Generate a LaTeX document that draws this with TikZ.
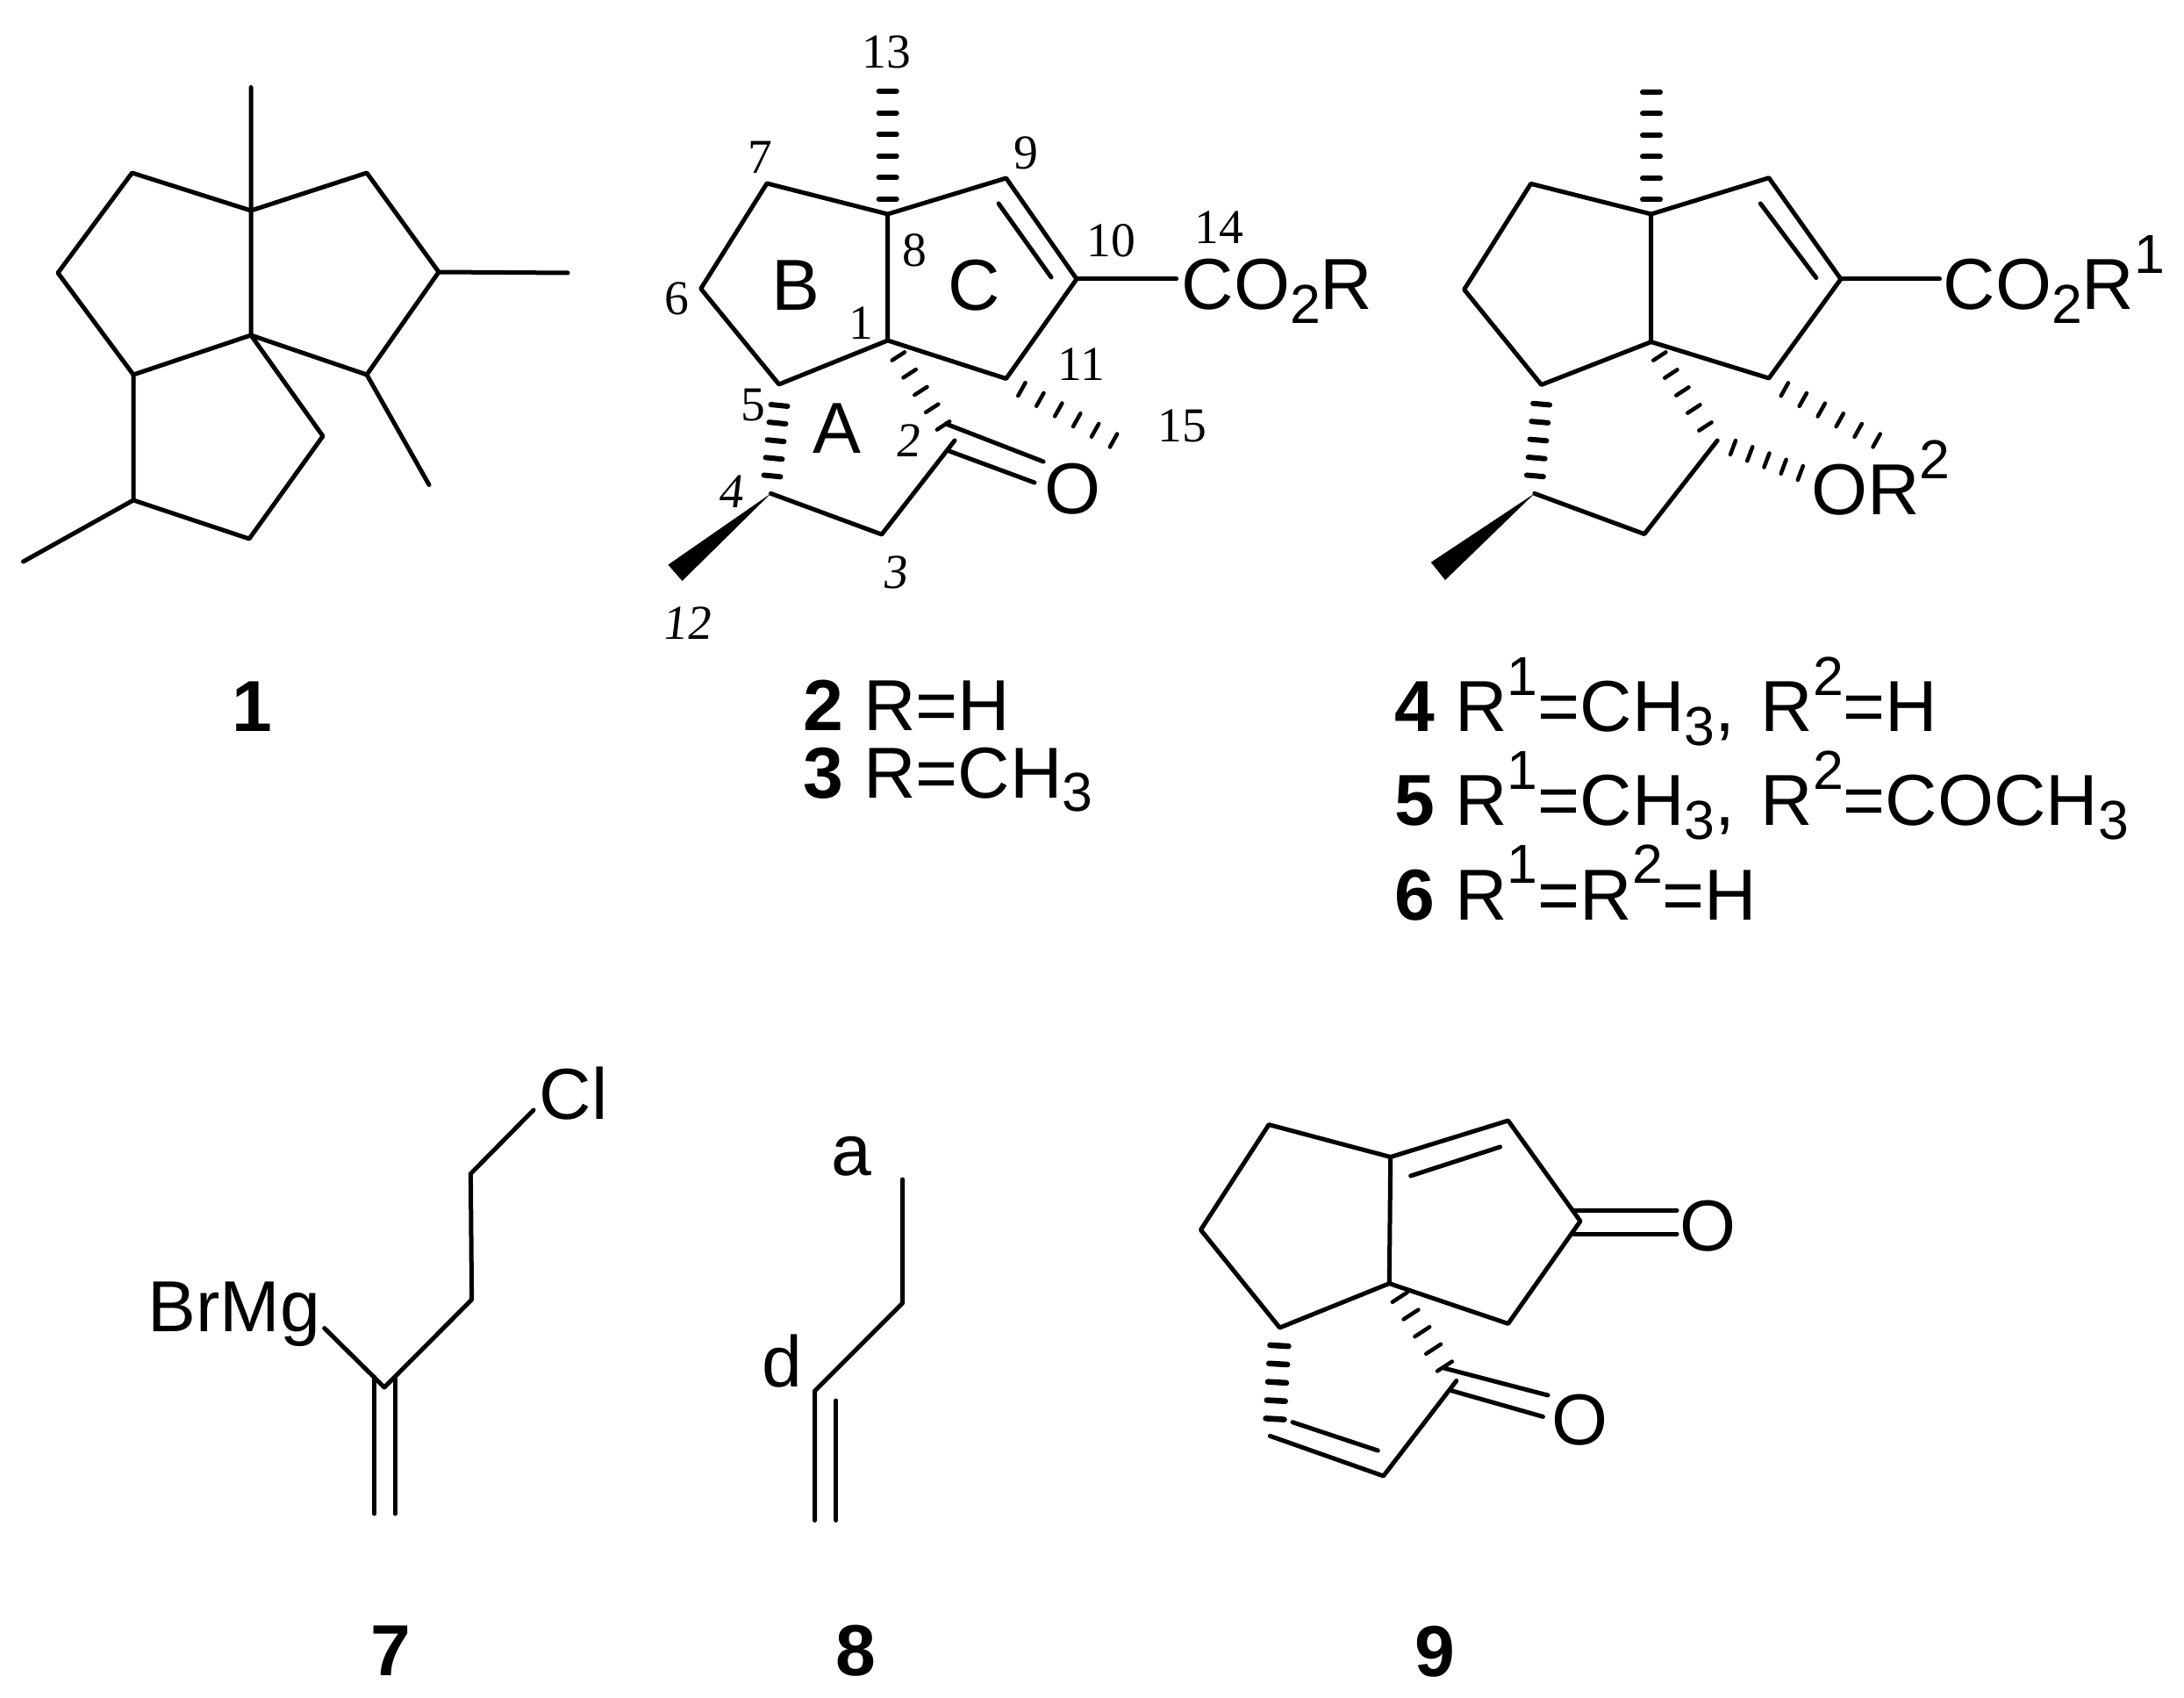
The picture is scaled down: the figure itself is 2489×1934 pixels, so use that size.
\documentclass[tikz,border=0pt]{standalone}
\usepackage{fontspec}
\setmainfont{Liberation Sans}
\newfontfamily\numfont{Liberation Serif}
\newfontfamily\slantfont[FakeSlant=0.12]{Liberation Serif}
\usetikzlibrary{calc}
\newcommand{\up}[1]{\raisebox{0.5em}{\fontsize{17.8}{17.8}\selectfont #1}}
\newcommand{\dn}[1]{\raisebox{-0.19em}{\fontsize{17.8}{17.8}\selectfont #1}}
\newcommand{\hashbond}[5]{
    \coordinate (hl1) at ($(#1)!#4!90:(#2)$);
    \coordinate (hl2) at ($(#2)!#4!-90:(#1)$);
    \coordinate (hr1) at ($(#1)!#4!-90:(#2)$);
    \coordinate (hr2) at ($(#2)!#4!90:(#1)$);
    \foreach \k in {1,...,#3} {
        \pgfmathsetmacro{\hpos}{(\k-1)/(#3-1)}
        \draw[line width=#5, line cap=round] ($(hl1)!\hpos!(hl2)$) -- ($(hr1)!\hpos!(hr2)$);
    }
}
\tikzset{
    bond/.style={line width=0.05cm, line cap=round, line join=round},
    atomlab/.style={font=\fontsize{23.4}{23.4}\selectfont, inner sep=0pt},
    textlab/.style={atomlab, anchor=base west},
    numlab/.style={font=\numfont\fontsize{15.8}{15.8}\selectfont, inner sep=0pt},
    slantlab/.style={font=\slantfont\fontsize{15.8}{15.8}\selectfont, inner sep=0pt}
}
\begin{document}
\begin{tikzpicture}[x=0.01cm, y=-0.01cm]
        \useasboundingbox (0,0) rectangle (2489,1934);

        % compound 1
        \coordinate (a1) at (286,240);
        \coordinate (a2) at (286,382);
        \coordinate (a3) at (150.5,197);
        \coordinate (a4) at (66,311);
        \coordinate (a5) at (152,427);
        \coordinate (a6) at (418,197);
        \coordinate (a7) at (500,310);
        \coordinate (a8) at (418,427);
        \coordinate (a9) at (368,497);
        \coordinate (a10) at (284,614);
        \coordinate (a11) at (152,570);
        \coordinate (a12) at (286,99.5);
        \coordinate (a13) at (647,311);
        \coordinate (a14) at (489,552.5);
        \coordinate (a15) at (26.5,640);
        \draw[bond] (a1) -- (a3) -- (a4) -- (a5) -- (a2) -- (a8) -- (a7) -- (a6) -- (a1);
        \draw[bond] (a12) -- (a1) -- (a2) -- (a9) -- (a10) -- (a11) -- (a5);
        \draw[bond] (a7) -- (a13);
        \draw[bond] (a8) -- (a14);
        \draw[bond] (a11) -- (a15);
        \node[textlab] (nameone) at (264,833) {\textbf{1}};

        % compounds 2 and 3
        \coordinate (b1) at (1011.7,388);
        \coordinate (b2) at (1081.7,514);
        \coordinate (b3) at (1004.8,609);
        \coordinate (b4) at (878.5,562.4);
        \coordinate (b5) at (887.7,438);
        \coordinate (b6) at (798.7,329);
        \coordinate (b7) at (874,209);
        \coordinate (b8) at (1011.7,244);
        \coordinate (b9) at (1146.6,203);
        \coordinate (b10) at (1227,318);
        \coordinate (b11) at (1146.6,431.5);
        \coordinate (b14) at (1340.6,318);
        \coordinate (bin1) at (1138,232);
        \coordinate (bin2) at (1198,316);
        \coordinate (bko) at (1088,502);
        \coordinate (bo1) at (1179,550);
        \coordinate (bo2) at (1078,483);
        \coordinate (bo3) at (1189,526);
        \coordinate (bw1) at (761.4,643.6);
        \coordinate (bw2) at (777.5,662);
        \coordinate (bh13a) at (1011.7,227);
        \coordinate (bh13b) at (1011.7,104);
        \coordinate (bh5a) at (888,462);
        \coordinate (bh5b) at (880,542.4);
        \coordinate (bh1a) at (1023.8,406);
        \coordinate (bh1b) at (1075,485);
        \coordinate (bh11a) at (1164.4,443.6);
        \coordinate (bh11b) at (1269,502);
        \draw[bond] (b8) -- (b7) -- (b6) -- (b5) -- (b1) -- (b8) -- (b9) -- (b10) -- (b11) -- (b1);
        \draw[bond] (bin1) -- (bin2);
        \draw[bond] (b10) -- (b14);
        \draw[bond] (b4) -- (b3) -- (bko);
        \draw[bond] (b2) -- (bo1);
        \draw[bond] (bo2) -- (bo3);
        \fill (b4) -- (bw1) -- (bw2) -- cycle;
        \hashbond{bh13a}{bh13b}{6}{0.1cm}{0.06cm}
        \hashbond{bh5a}{bh5b}{5}{0.095cm}{0.06cm}
        \hashbond{bh1a}{bh1b}{5}{0.085cm}{0.045cm}
        \hashbond{bh11a}{bh11b}{6}{0.085cm}{0.045cm}
        \node[numlab] (n13) at (1010,59) {13};
        \node[numlab] (n7) at (866.5,179) {7};
        \node[numlab] (n9) at (1169.6,174.5) {9};
        \node[numlab] (n8) at (1042.7,285) {8};
        \node[numlab] (n10) at (1266.6,274) {10};
        \node[numlab] (n14) at (1389,259) {14};
        \node[numlab] (n6) at (771.8,340.6) {6};
        \node[numlab] (n1) at (981,368.5) {1};
        \node[numlab] (n11) at (1232.7,415) {11};
        \node[numlab] (n5) at (857.9,462) {5};
        \node[numlab] (n15) at (1347.5,485) {15};
        \node[slantlab] (n2) at (1034.7,502) {2};
        \node[slantlab] (n4) at (832,560.6) {4};
        \node[slantlab] (n3) at (1019,652.7) {3};
        \node[slantlab] (n12) at (782,710) {12};
        \node[atomlab] (ringb) at (906.7,325.5) {B};
        \node[atomlab] (ringc) at (1110.5,325.5) {C};
        \node[atomlab] (ringa) at (953.7,488) {A};
        \node[atomlab] (oxo) at (1222.4,557.6) {O};
        \node[textlab] (ester) at (1346,353) {CO\dn{2}R};
        \node[textlab] (nametwo) at (915,832) {\textbf{2} R=H};
        \node[textlab] (namethree) at (915,909) {\textbf{3} R=CH\dn{3}};

        % compounds 4, 5 and 6
        \coordinate (c1) at (1881.7,389.6);
        \coordinate (c2) at (1957.2,502);
        \coordinate (c3) at (1874,608.6);
        \coordinate (c4) at (1748.8,562.4);
        \coordinate (c5) at (1756.6,438.5);
        \coordinate (c6) at (1668.6,330);
        \coordinate (c7) at (1744.6,209.4);
        \coordinate (c8) at (1881.7,244);
        \coordinate (c9) at (2015.9,202.7);
        \coordinate (c10) at (2097.9,318);
        \coordinate (c11) at (2015.9,431);
        \coordinate (c14) at (2210.5,318);
        \coordinate (cin1) at (2006.3,232);
        \coordinate (cin2) at (2069.8,316.6);
        \coordinate (cw1) at (1630.8,640.8);
        \coordinate (cw2) at (1647,661);
        \coordinate (ch13a) at (1882,227.5);
        \coordinate (ch13b) at (1882,105);
        \coordinate (ch5a) at (1756.6,460.6);
        \coordinate (ch5b) at (1749.4,542.3);
        \coordinate (ch1a) at (1891.3,406);
        \coordinate (ch1b) at (1943.4,486);
        \coordinate (ch11a) at (2033.8,443.8);
        \coordinate (ch11b) at (2138.6,502);
        \coordinate (ch2a) at (1975,510);
        \coordinate (ch2b) at (2051.8,539);
        \draw[bond] (c8) -- (c7) -- (c6) -- (c5) -- (c1) -- (c8) -- (c9) -- (c10) -- (c11) -- (c1);
        \draw[bond] (cin1) -- (cin2);
        \draw[bond] (c10) -- (c14);
        \draw[bond] (c4) -- (c3) -- (c2);
        \fill (c4) -- (cw1) -- (cw2) -- cycle;
        \hashbond{ch13a}{ch13b}{6}{0.1cm}{0.06cm}
        \hashbond{ch5a}{ch5b}{5}{0.095cm}{0.06cm}
        \hashbond{ch1a}{ch1b}{5}{0.085cm}{0.045cm}
        \hashbond{ch11a}{ch11b}{6}{0.085cm}{0.045cm}
        \hashbond{ch2a}{ch2b}{5}{0.085cm}{0.045cm}
        \node[textlab] (esterr) at (2214,353) {CO\dn{2}R\up{1}};
        \node[textlab] (ether) at (2063.8,587) {OR\up{2}};
        \node[textlab] (namefour) at (1589,833.6) {\textbf{4} R\up{1}=CH\dn{3},\hspace{0.08em} R\up{2}=H};
        \node[textlab] (namefive) at (1589,940.8) {\textbf{5} R\up{1}=CH\dn{3},\hspace{0.08em} R\up{2}=COCH\dn{3}};
        \node[textlab] (namesix) at (1589,1048) {\textbf{6} R\up{1}=R\up{2}=H};

        % compound 7
        \coordinate (d1) at (608,1265);
        \coordinate (d2) at (536.4,1337.5);
        \coordinate (d3) at (537.6,1481);
        \coordinate (d4) at (438,1581);
        \coordinate (d5) at (369.7,1513.5);
        \coordinate (d6) at (426.7,1569);
        \coordinate (d7) at (426.7,1725);
        \coordinate (d8) at (450.3,1569);
        \coordinate (d9) at (450.3,1725);
        \draw[bond] (d1) -- (d2) -- (d3) -- (d4) -- (d5);
        \draw[bond] (d6) -- (d7);
        \draw[bond] (d8) -- (d9);
        \node[textlab] (chloro) at (614,1275) {Cl};
        \node[textlab] (grignard) at (168,1517.5) {BrMg};
        \node[textlab] (nameseven) at (422,1909) {\textbf{7}};

        % compound 8
        \coordinate (e1) at (1028.5,1344);
        \coordinate (e2) at (1028.5,1485);
        \coordinate (e3) at (928.5,1585);
        \coordinate (e4) at (928.5,1732.5);
        \coordinate (e5) at (952.7,1596);
        \coordinate (e6) at (952.7,1732.5);
        \draw[bond] (e1) -- (e2) -- (e3) -- (e4);
        \draw[bond] (e5) -- (e6);
        \node[textlab] (laba) at (947,1339) {a};
        \node[textlab] (labd) at (868,1580) {d};
        \node[textlab] (nameeight) at (952,1909) {\textbf{8}};

        % compound 9
        \coordinate (f1) at (1583.3,1462.6);
        \coordinate (f2) at (1584.7,1318.5);
        \coordinate (f3) at (1446,1281.6);
        \coordinate (f4) at (1368.4,1401.5);
        \coordinate (f5) at (1458.4,1513);
        \coordinate (f6) at (1718.7,1277);
        \coordinate (f7) at (1801,1391.6);
        \coordinate (f8) at (1718.7,1508.4);
        \coordinate (fin1) at (1607.7,1340);
        \coordinate (fin2) at (1709.6,1307);
        \coordinate (fo1) at (1792.8,1379.5);
        \coordinate (fo2) at (1911,1379.5);
        \coordinate (fo3) at (1792.8,1406);
        \coordinate (fo4) at (1911,1406);
        \coordinate (g1) at (1447.4,1636.4);
        \coordinate (g2) at (1576.6,1682);
        \coordinate (g3) at (1659.8,1573.5);
        \coordinate (gin1) at (1473,1620.7);
        \coordinate (gin2) at (1570.3,1653);
        \coordinate (go1) at (1654,1584.7);
        \coordinate (go2) at (1758.4,1614.4);
        \coordinate (go3) at (1645.5,1559);
        \coordinate (go4) at (1764,1590);
        \coordinate (fh5a) at (1457.9,1533.5);
        \coordinate (fh5b) at (1453,1617);
        \coordinate (fh1a) at (1595.2,1478.3);
        \coordinate (fh1b) at (1646.4,1557);
        \draw[bond] (f1) -- (f5) -- (f4) -- (f3) -- (f2) -- (f1) -- (f8) -- (f7) -- (f6) -- (f2);
        \draw[bond] (fin1) -- (fin2);
        \draw[bond] (fo1) -- (fo2);
        \draw[bond] (fo3) -- (fo4);
        \draw[bond] (g1) -- (g2) -- (g3);
        \draw[bond] (gin1) -- (gin2);
        \draw[bond] (go1) -- (go2);
        \draw[bond] (go3) -- (go4);
        \hashbond{fh5a}{fh5b}{5}{0.105cm}{0.065cm}
        \hashbond{fh1a}{fh1b}{5}{0.1cm}{0.045cm}
        \node[atomlab] (oxoa) at (1946,1397.5) {O};
        \node[atomlab] (oxob) at (1800.5,1618.4) {O};
        \node[textlab] (namenine) at (1612,1910) {\textbf{9}};
    \end{tikzpicture}
\end{document}
